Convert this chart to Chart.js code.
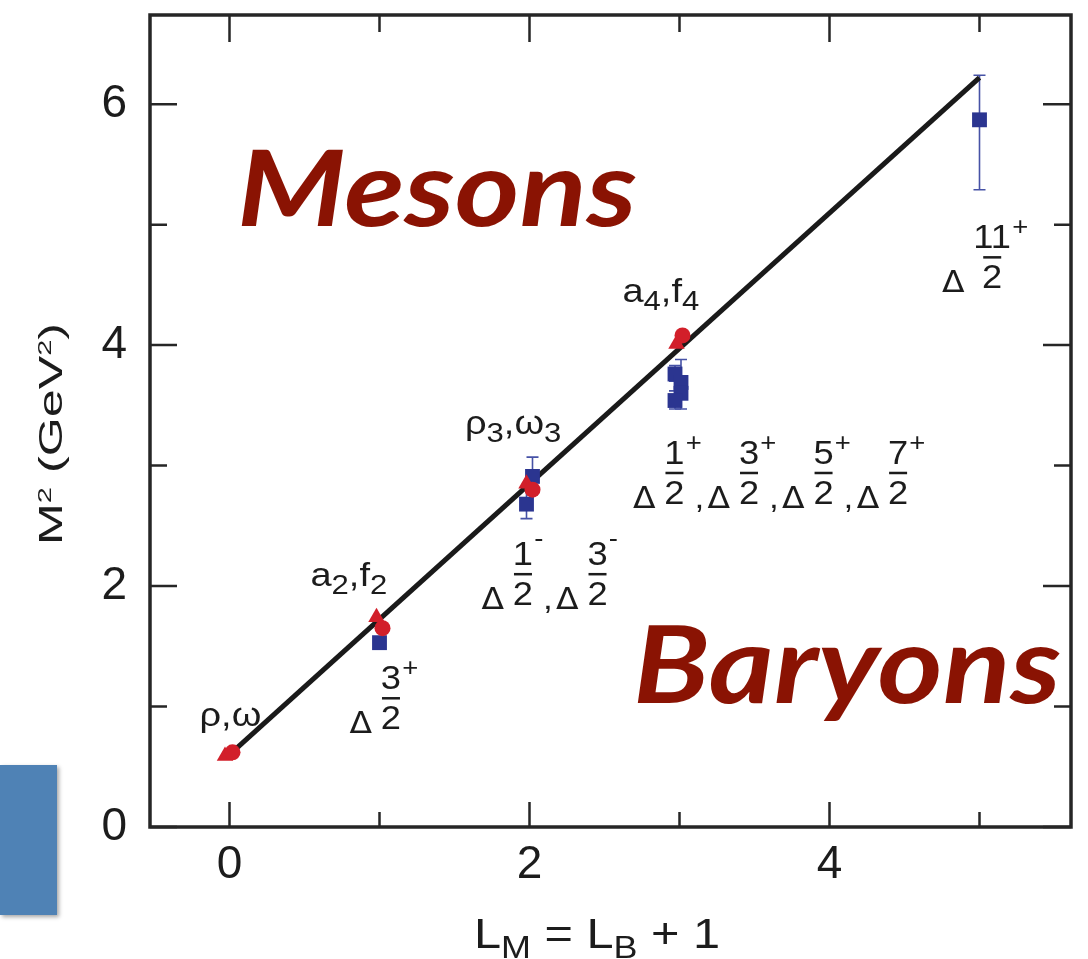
<!DOCTYPE html>
<html>
<head>
<meta charset="utf-8">
<script src="https://cdn.jsdelivr.net/npm/chart.js@4/dist/chart.umd.min.js"></script>
<style>
  body { margin: 0; background: #fff; }
  #wrap { position: relative; width: 1088px; height: 959px; }
  #tab { position: absolute; left: 0; top: 765px; width: 57px; height: 150px;
         background: #4f82b5; box-shadow: 2px 2px 4px rgba(0,0,0,0.35); }
</style>
</head>
<body>
<div id="wrap">
  <canvas id="regge" width="1088" height="959"></canvas>
  <div id="tab"></div>
</div>
<script>
// values
const fitL = [0, 5];
const fitM2 = [0.6, 6.22];

const mesonCircleL = [0.02, 1.02, 2.02, 3.02];
const mesonCircleM2 = [0.62, 1.65, 2.80, 4.08];
const mesonTriL = [-0.03, 0.98, 1.98, 2.98];
const mesonTriM2 = [0.59, 1.74, 2.85, 4.01];

const baryonL = [1.0, 1.98, 2.02, 2.97, 3.01, 3.01, 2.97, 5.0];
const baryonM2 = [1.53, 2.68, 2.91, 3.76, 3.69, 3.60, 3.54, 5.87];
const baryonErrLo = [null, 2.56, 2.78, 3.70, 3.60, 3.47, 3.47, 5.29];
const baryonErrHi = [null, 2.80, 3.07, 3.83, 3.88, 3.68, 3.62, 6.24];

const xTicks = [0, 2, 4];
const yTicks = [0, 2, 4, 6];
const xMinor = [1, 3, 5];
const yMinor = [1, 3, 5];

// text labels (anchor in data units)
const mesonLabels = [
    { x: -0.2, y: 0.84, segs: [['ρ'], [','], ['ω']] },
    { x: 0.54, y: 2.0, segs: [['a'], ['2', 'sub'], [','], ['f'], ['2', 'sub']] },
    { x: 1.57, y: 3.26, segs: [['ρ'], ['3', 'sub'], [','], ['ω'], ['3', 'sub']] },
    { x: 2.62, y: 4.36, segs: [['a'], ['4', 'sub'], [','], ['f'], ['4', 'sub']] }
];
const deltaLabels = [
    { x: 0.80, y: 0.78, groups: [['3', '+']] },
    { x: 1.68, y: 1.81, groups: [['1', '-'], ['3', '-']] },
    { x: 2.69, y: 2.65, groups: [['1', '+'], ['3', '+'], ['5', '+'], ['7', '+']] },
    { x: 4.75, y: 4.44, groups: [['11', '+']] }
];

const FONT = '"Liberation Sans", Arial, Helvetica, sans-serif';
const INK = '#1c1c1c';

const pts = (xs, ys) => xs.map((x, i) => ({ x: x, y: ys[i] }));

function segFont(kind, o) {
    if (kind === 'sub') return o.subSize;
    if (kind === 'sup') return o.supSize;
    return o.size;
}

function richWidth(ctx, segs, o) {
    let w = 0;
    segs.forEach(s => {
        ctx.font = segFont(s[1], o) + 'px ' + FONT;
        w += ctx.measureText(s[0]).width;
    });
    return w;
}

function drawRich(ctx, segs, x, y, o, sx) {
    ctx.save();
    ctx.translate(x, y);
    ctx.scale(sx, 1);
    let cx = 0;
    segs.forEach(s => {
        ctx.font = segFont(s[1], o) + 'px ' + FONT;
        const dy = s[1] === 'sub' ? o.subShift : (s[1] === 'sup' ? o.supShift : 0);
        ctx.fillText(s[0], cx, dy);
        cx += ctx.measureText(s[0]).width;
    });
    ctx.restore();
}

function drawDelta(ctx, groups, x, y, sx) {
    ctx.save();
    ctx.translate(x, y);
    ctx.scale(sx, 1);
    let cx = 0;
    groups.forEach((g, i) => {
        if (i > 0) {
            ctx.font = '32px ' + FONT;
            ctx.fillText(',', cx, 0);
            cx += ctx.measureText(',').width + 3;
        }
        ctx.font = '30px "DejaVu Sans", sans-serif';
        ctx.fillText('Δ', cx, 0);
        cx += ctx.measureText('Δ').width + 8;
        ctx.font = '33px ' + FONT;
        const wn = ctx.measureText(g[0]).width;
        const wd = ctx.measureText('2').width;
        const col = Math.max(wn, wd);
        const dx = cx + (col - wd) / 2;
        ctx.fillText('2', dx, -4);
        ctx.fillRect(dx + 1, -36, wd - 2, 2.5);
        ctx.fillText(g[0], cx + (col - wn) / 2, -44);
        ctx.font = '25px ' + FONT;
        ctx.fillText(g[1], cx + col + 1, g[1] === '+' ? -57 : -62);
        cx += col + 9;
    });
    ctx.restore();
}

const labelPlugin = {
    id: 'labels',
    afterDatasetsDraw(chart) {
        const ctx = chart.ctx;
        const xs = chart.scales.x, ys = chart.scales.y;
        ctx.save();
        ctx.fillStyle = INK;
        ctx.textBaseline = 'alphabetic';
        ctx.textAlign = 'left';
        const mo = { size: 33, subSize: 27, subShift: 8 };
        mesonLabels.forEach(l => {
            drawRich(ctx, l.segs, xs.getPixelForValue(l.x), ys.getPixelForValue(l.y), mo, 1.15);
        });
        deltaLabels.forEach(l => {
            drawDelta(ctx, l.groups, xs.getPixelForValue(l.x), ys.getPixelForValue(l.y), 1.1);
        });

        // big words
        ctx.fillStyle = '#8a1303';
        [['Mesons', 237, 226, 106, 400], ['Baryons', 633, 703, 107, 428]].forEach(w => {
            ctx.font = 'italic bold ' + w[3] + 'px Lato, "Open Sans", sans-serif';
            const nat = ctx.measureText(w[0]).width;
            ctx.save();
            ctx.translate(w[1], w[2]);
            ctx.scale(w[4] / nat, 1);
            ctx.fillText(w[0], 0, 0);
            ctx.restore();
        });

        // axis titles
        ctx.fillStyle = INK;
        const xo = { size: 42, subSize: 31, subShift: 10 };
        const xSegs = [['L'], ['M', 'sub'], [' = L'], ['B', 'sub'], [' + 1']];
        drawRich(ctx, xSegs, 474, 948, xo, 246 / richWidth(ctx, xSegs, xo));

        const yo = { size: 33, supSize: 19, supShift: -11 };
        const ySegs = [['M'], ['2', 'sup'], [' (GeV'], ['2', 'sup'], [')']];
        ctx.save();
        ctx.translate(62, 545);
        ctx.rotate(-Math.PI / 2);
        drawRich(ctx, ySegs, 0, 0, yo, 222 / richWidth(ctx, ySegs, yo));
        ctx.restore();
        ctx.restore();
    }
};

const errorBarPlugin = {
    id: 'errorBars',
    beforeDatasetsDraw(chart) {
        const ctx = chart.ctx;
        const xs = chart.scales.x, ys = chart.scales.y;
        ctx.save();
        ctx.strokeStyle = '#4652a6';
        ctx.lineWidth = 1.6;
        baryonL.forEach((l, i) => {
            if (baryonErrLo[i] === null) return;
            const px = xs.getPixelForValue(l);
            const lo = ys.getPixelForValue(baryonErrLo[i]);
            const hi = ys.getPixelForValue(baryonErrHi[i]);
            ctx.beginPath();
            ctx.moveTo(px, lo); ctx.lineTo(px, hi);
            ctx.moveTo(px - 6, lo); ctx.lineTo(px + 6, lo);
            ctx.moveTo(px - 6, hi); ctx.lineTo(px + 6, hi);
            ctx.stroke();
        });
        ctx.restore();
    }
};

const framePlugin = {
    id: 'frame',
    afterDraw(chart) {
        const ctx = chart.ctx;
        const a = chart.chartArea;
        const xs = chart.scales.x, ys = chart.scales.y;
        ctx.save();
        ctx.strokeStyle = '#262626';
        ctx.lineWidth = 3.5;
        ctx.strokeRect(a.left, a.top, a.right - a.left, a.bottom - a.top);
        ctx.lineWidth = 2.5;
        ctx.beginPath();
        const xt = (v, major) => {
            const p = xs.getPixelForValue(v);
            ctx.moveTo(p, a.bottom); ctx.lineTo(p, a.bottom - (major ? 25 : 15));
            ctx.moveTo(p, a.top); ctx.lineTo(p, a.top + (major ? 27 : 17));
        };
        const yt = (v, major) => {
            const p = ys.getPixelForValue(v);
            ctx.moveTo(a.left, p); ctx.lineTo(a.left + (major ? 27 : 17), p);
            ctx.moveTo(a.right, p); ctx.lineTo(a.right - (major ? 28 : 17), p);
        };
        xTicks.forEach(v => xt(v, true));
        xMinor.forEach(v => xt(v, false));
        yTicks.forEach(v => yt(v, true));
        yMinor.forEach(v => yt(v, false));
        ctx.stroke();
        ctx.restore();
    }
};

const ctx = document.getElementById('regge').getContext('2d');
const reggeChart = new Chart(ctx, {
    type: 'scatter',
    data: {
        datasets: [
            {
                label: 'fit',
                type: 'line',
                data: pts(fitL, fitM2),
                borderColor: '#1a1a1a',
                borderWidth: 5,
                pointRadius: 0,
                fill: false,
                order: 4
            },
            {
                label: 'baryons',
                data: pts(baryonL, baryonM2),
                pointStyle: 'rect',
                pointRadius: 10.5,
                backgroundColor: '#2b3590',
                borderWidth: 0,
                order: 3
            },
            {
                label: 'mesons (triangles)',
                data: pts(mesonTriL, mesonTriM2),
                pointStyle: 'triangle',
                pointRadius: 9.5,
                backgroundColor: '#d21f2a',
                borderWidth: 0,
                order: 2
            },
            {
                label: 'mesons (circles)',
                data: pts(mesonCircleL, mesonCircleM2),
                pointStyle: 'circle',
                pointRadius: 8,
                backgroundColor: '#d21f2a',
                borderWidth: 0,
                order: 1
            }
        ]
    },
    options: {
        responsive: false,
        animation: false,
        devicePixelRatio: 1,
        layout: { padding: { left: 0, top: 15, right: 17, bottom: 0 } },
        plugins: { legend: { display: false }, tooltip: { enabled: false } },
        scales: {
            x: {
                type: 'linear',
                min: -0.53,
                max: 5.61,
                grid: { display: false, drawTicks: false },
                border: { display: false },
                afterBuildTicks: s => { s.ticks = xTicks.map(v => ({ value: v })); },
                afterFit: s => { s.height = 132; s.paddingLeft = 0; s.paddingRight = 0; },
                ticks: { color: INK, padding: 11, font: { family: FONT, size: 46 } }
            },
            y: {
                type: 'linear',
                min: 0,
                max: 6.74,
                grid: { display: false, drawTicks: false },
                border: { display: false },
                afterBuildTicks: s => { s.ticks = yTicks.map(v => ({ value: v })); },
                afterFit: s => { s.width = 150; s.paddingTop = 0; s.paddingBottom = 0; },
                ticks: { color: INK, padding: 23, font: { family: FONT, size: 46 } }
            }
        }
    },
    plugins: [errorBarPlugin, labelPlugin, framePlugin]
});
</script>
</body>
</html>
